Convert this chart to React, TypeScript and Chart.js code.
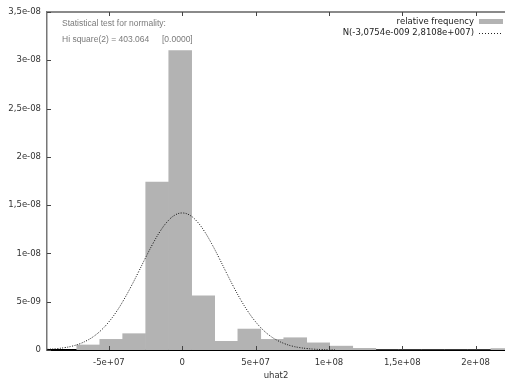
import React, { useEffect, useRef } from "react";
import { Chart, registerables } from "chart.js";

Chart.register(...registerables);

// Histogram (relative frequency) bin centres and heights
const binCenters = [
  -64.1e6, -48.4e6, -32.8e6, -17.1e6, -1.4e6, 14.3e6, 30.0e6, 45.7e6, 61.4e6, 77.0e6,
  92.7e6, 108.4e6, 124.1e6, 139.8e6, 155.4e6, 171.1e6, 186.8e6, 202.5e6, 218.2e6,
];
const relFreq = [
  0.52e-9, 1.1e-9, 1.69e-9, 17.4e-9, 31.0e-9, 5.6e-9, 0.9e-9, 2.17e-9, 1.1e-9, 1.27e-9,
  0.74e-9, 0.4e-9, 0.17e-9, 0, 0, 0, 0, 0, 0.15e-9,
];

// Normal density curve
const curveX = [
  -92e6, -85e6, -80e6, -75e6, -70e6, -65e6, -60e6, -55e6, -50e6, -45e6, -40e6, -35e6, -30e6,
  -25e6, -20e6, -15e6, -10e6, -5e6, 0, 5e6, 10e6, 15e6, 20e6, 25e6, 30e6, 35e6, 40e6, 45e6,
  50e6, 55e6, 60e6, 65e6, 70e6, 75e6, 80e6, 85e6, 90e6, 95e6, 100e6, 104e6,
];
const curveY = [
  0.067e-9, 0.15e-9, 0.25e-9, 0.4e-9, 0.64e-9, 0.98e-9, 1.45e-9, 2.09e-9, 2.92e-9, 3.94e-9,
  5.16e-9, 6.54e-9, 8.03e-9, 9.56e-9, 11.02e-9, 12.31e-9, 13.32e-9, 13.97e-9, 14.19e-9,
  13.97e-9, 13.32e-9, 12.31e-9, 11.02e-9, 9.56e-9, 8.03e-9, 6.54e-9, 5.16e-9, 3.94e-9,
  2.92e-9, 2.09e-9, 1.45e-9, 0.98e-9, 0.64e-9, 0.4e-9, 0.25e-9, 0.15e-9, 0.084e-9, 0.047e-9,
  0.025e-9, 0.014e-9,
];

const xTicks = [-5e7, 0, 5e7, 1e8, 1.5e8, 2e8];
const xTickLabels = ["-5e+07", "0", "5e+07", "1e+08", "1,5e+08", "2e+08"];
const yTicks = [0, 5e-9, 1e-8, 1.5e-8, 2e-8, 2.5e-8, 3e-8, 3.5e-8];
const yTickLabels = ["0", "5e-09", "1e-08", "1,5e-08", "2e-08", "2,5e-08", "3e-08", "3,5e-08"];
const xMin = -9.22e7;
const xMax = 2.2e8;

const legendLabels = ["relative frequency", "N(-3,0754e-009 2,8108e+007)"];
const testTitle = "Statistical test for normality:";
const testStat = "Hi square(2) = 403.064";
const testPval = "[0.0000]";
const xTitle = "uhat2";

const BAR_COLOR = "#b3b3b3";

const decor = {
  id: "decor",
  afterDatasetsDraw(chart: any) {
    const { ctx, chartArea: a, scales } = chart;
    ctx.save();
    // top border
    ctx.strokeStyle = "#8a8a8a";
    ctx.lineWidth = 2;
    ctx.beginPath();
    ctx.moveTo(a.left, a.top);
    ctx.lineTo(a.right, a.top);
    ctx.stroke();
    // inward tick marks
    ctx.strokeStyle = "#444";
    ctx.lineWidth = 1;
    ctx.beginPath();
    for (const v of xTicks) {
      const px = Math.round(scales.x.getPixelForValue(v)) + 0.5;
      ctx.moveTo(px, a.bottom);
      ctx.lineTo(px, a.bottom - 4);
      ctx.moveTo(px, a.top);
      ctx.lineTo(px, a.top + 4);
    }
    for (const v of yTicks) {
      const py = Math.round(scales.y.getPixelForValue(v)) + 0.5;
      ctx.moveTo(a.left, py);
      ctx.lineTo(a.left + 4, py);
    }
    ctx.stroke();

    // normality test text
    ctx.fillStyle = "#7a7a7a";
    ctx.font = "8.5px 'Liberation Sans'";
    ctx.textBaseline = "middle";
    ctx.textAlign = "left";
    ctx.fillText(testTitle, a.left + 15, 24);
    ctx.fillText(testStat, a.left + 15, 39.5);
    ctx.fillText(testPval, a.left + 115, 39.5);

    // legend
    ctx.fillStyle = "#222";
    ctx.font = "8.5px 'DejaVu Sans'";
    ctx.textAlign = "right";
    const ds = chart.data.datasets;
    ctx.fillText(ds[0].label, 474, 21.5);
    ctx.fillText(ds[1].label, 474, 33);
    ctx.fillStyle = BAR_COLOR;
    ctx.fillRect(479, 19, 24, 5);
    ctx.strokeStyle = "#222";
    ctx.setLineDash([1, 2]);
    ctx.beginPath();
    ctx.moveTo(479, 33.5);
    ctx.lineTo(503, 33.5);
    ctx.stroke();
    ctx.restore();
  },
};

export default function App() {
  const ref = useRef<HTMLCanvasElement>(null);
  useEffect(() => {
    if (!ref.current) return;
    Chart.defaults.font.family = "'DejaVu Sans'";
    const chart = new Chart(ref.current, {
      type: "bar",
      data: {
        datasets: [
          {
            type: "bar",
            label: legendLabels[0],
            data: binCenters.map((x, i) => ({ x, y: relFreq[i] })),
            backgroundColor: BAR_COLOR,
            borderWidth: 0,
            barPercentage: 1,
            categoryPercentage: 1,
            order: 2,
          } as any,
          {
            type: "line",
            label: legendLabels[1],
            data: curveX.map((x, i) => ({ x, y: curveY[i] })),
            borderColor: "#111",
            borderWidth: 1,
            borderDash: [1, 1.5],
            pointRadius: 0,
            tension: 0.4,
            fill: false,
            order: 1,
          } as any,
        ],
      },
      options: {
        animation: false,
        responsive: true,
        maintainAspectRatio: false,
        layout: { padding: { top: 12, right: 0, left: 0, bottom: 0 } },
        plugins: { legend: { display: false }, tooltip: { enabled: false } },
        scales: {
          x: {
            type: "linear",
            min: xMin,
            max: xMax,
            offset: false,
            grid: { display: false, drawTicks: false, offset: false },
            border: { display: true, color: "#000", width: 2 },
            afterBuildTicks: (s: any) => {
              s.ticks = xTicks.map((v) => ({ value: v }));
            },
            afterFit: (s: any) => {
              s.height = 33;
            },
            ticks: {
              autoSkip: false,
              maxRotation: 0,
              padding: 8,
              color: "#333",
              font: { size: 8.5, family: "'DejaVu Sans'" },
              callback: (_v: any, i: number) => xTickLabels[i],
            },
            title: {
              display: true,
              text: xTitle,
              color: "#333",
              font: { size: 8.5, family: "'DejaVu Sans'" },
              padding: { top: 0, bottom: 2 },
            },
          },
          y: {
            type: "linear",
            min: 0,
            max: 3.5e-8,
            grid: { display: false, drawTicks: false },
            border: { display: true, color: "#777", width: 1.5 },
            afterBuildTicks: (s: any) => {
              s.ticks = yTicks.map((v) => ({ value: v }));
            },
            afterFit: (s: any) => {
              s.width = 47;
            },
            ticks: {
              padding: 6,
              color: "#333",
              font: { size: 8.5, family: "'DejaVu Sans'" },
              callback: (_v: any, i: number) => yTickLabels[i],
            },
          },
        },
      } as any,
      plugins: [decor],
    });
    return () => chart.destroy();
  }, []);
  return (
    <div style={{ position: "absolute", left: 0, top: 0, width: 505, height: 383 }}>
      <canvas ref={ref} />
    </div>
  );
}
